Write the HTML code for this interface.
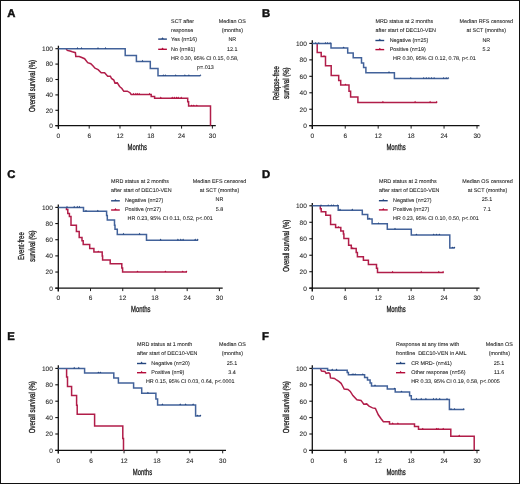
<!DOCTYPE html><html><head><meta charset="utf-8"><style>html,body{margin:0;padding:0;background:#fff;}svg{display:block;filter:blur(0.3px);text-rendering:geometricPrecision;}</style></head><body>
<svg width="520" height="484" viewBox="0 0 520 484" font-family='"Liberation Sans", sans-serif'>
<rect x="0" y="0" width="520" height="484" fill="#fff"/>
<rect x="0.5" y="0.5" width="519" height="483" fill="none" stroke="#111" stroke-width="1"/>
<text x="7.3" y="17.0" font-size="11.3" font-weight="bold" fill="#111" stroke="#111" stroke-width="0.45">A</text>
<text x="262" y="17.2" font-size="11.3" font-weight="bold" fill="#111" stroke="#111" stroke-width="0.45">B</text>
<text x="7.3" y="178.2" font-size="11.3" font-weight="bold" fill="#111" stroke="#111" stroke-width="0.45">C</text>
<text x="262" y="178.1" font-size="11.3" font-weight="bold" fill="#111" stroke="#111" stroke-width="0.45">D</text>
<text x="7.3" y="340.2" font-size="11.3" font-weight="bold" fill="#111" stroke="#111" stroke-width="0.45">E</text>
<text x="262" y="340.2" font-size="11.3" font-weight="bold" fill="#111" stroke="#111" stroke-width="0.45">F</text>
<line x1="58.4" y1="45.7" x2="58.4" y2="128.9" stroke="#111" stroke-width="1.3"/>
<line x1="55.4" y1="125.7" x2="215.8" y2="125.7" stroke="#111" stroke-width="1.3"/>
<line x1="55.4" y1="125.70" x2="58.4" y2="125.70" stroke="#111" stroke-width="1.1"/>
<text x="52.9" y="128.05" font-size="6.5" text-anchor="end" fill="#1a1a1a" stroke="#1a1a1a" stroke-width="0.07" >0</text>
<line x1="55.4" y1="110.30" x2="58.4" y2="110.30" stroke="#111" stroke-width="1.1"/>
<text x="52.9" y="112.64999999999999" font-size="6.5" text-anchor="end" fill="#1a1a1a" stroke="#1a1a1a" stroke-width="0.07" >20</text>
<line x1="55.4" y1="94.90" x2="58.4" y2="94.90" stroke="#111" stroke-width="1.1"/>
<text x="52.9" y="97.25" font-size="6.5" text-anchor="end" fill="#1a1a1a" stroke="#1a1a1a" stroke-width="0.07" >40</text>
<line x1="55.4" y1="79.50" x2="58.4" y2="79.50" stroke="#111" stroke-width="1.1"/>
<text x="52.9" y="81.85" font-size="6.5" text-anchor="end" fill="#1a1a1a" stroke="#1a1a1a" stroke-width="0.07" >60</text>
<line x1="55.4" y1="64.10" x2="58.4" y2="64.10" stroke="#111" stroke-width="1.1"/>
<text x="52.9" y="66.44999999999999" font-size="6.5" text-anchor="end" fill="#1a1a1a" stroke="#1a1a1a" stroke-width="0.07" >80</text>
<line x1="55.4" y1="48.70" x2="58.4" y2="48.70" stroke="#111" stroke-width="1.1"/>
<text x="52.9" y="51.050000000000004" font-size="6.5" text-anchor="end" fill="#1a1a1a" stroke="#1a1a1a" stroke-width="0.07" >100</text>
<line x1="58.40" y1="125.7" x2="58.40" y2="128.6" stroke="#111" stroke-width="0.95"/>
<text x="58.40" y="137.9" font-size="6.5" text-anchor="middle" fill="#1a1a1a" stroke="#1a1a1a" stroke-width="0.07" >0</text>
<line x1="89.20" y1="125.7" x2="89.20" y2="128.6" stroke="#111" stroke-width="0.95"/>
<text x="89.20" y="137.9" font-size="6.5" text-anchor="middle" fill="#1a1a1a" stroke="#1a1a1a" stroke-width="0.07" >6</text>
<line x1="120.00" y1="125.7" x2="120.00" y2="128.6" stroke="#111" stroke-width="0.95"/>
<text x="120.00" y="137.9" font-size="6.5" text-anchor="middle" fill="#1a1a1a" stroke="#1a1a1a" stroke-width="0.07" >12</text>
<line x1="150.79" y1="125.7" x2="150.79" y2="128.6" stroke="#111" stroke-width="0.95"/>
<text x="150.79" y="137.9" font-size="6.5" text-anchor="middle" fill="#1a1a1a" stroke="#1a1a1a" stroke-width="0.07" >18</text>
<line x1="181.59" y1="125.7" x2="181.59" y2="128.6" stroke="#111" stroke-width="0.95"/>
<text x="181.59" y="137.9" font-size="6.5" text-anchor="middle" fill="#1a1a1a" stroke="#1a1a1a" stroke-width="0.07" >24</text>
<line x1="212.39" y1="125.7" x2="212.39" y2="128.6" stroke="#111" stroke-width="0.95"/>
<text x="212.39" y="137.9" font-size="6.5" text-anchor="middle" fill="#1a1a1a" stroke="#1a1a1a" stroke-width="0.07" >30</text>
<text x="0" y="0" font-size="8.7" text-anchor="middle" fill="#1a1a1a" stroke="#1a1a1a" stroke-width="0.3" transform="translate(137.30,149.80) scale(0.68,1)">Months</text>
<text x="0" y="0" font-size="8.7" text-anchor="middle" fill="#1a1a1a" stroke="#1a1a1a" stroke-width="0.3" transform="translate(35.00,86.00) rotate(-90) scale(0.69,1)">Overall survival (%)</text>
<path d="M66.20,48.80 L67.30,50.40 L70.00,51.00 L72.30,51.80 L75.40,52.70 L75.80,56.40 L79.20,56.50 L81.20,57.30 L84.60,58.70 L87.70,62.70 L90.80,63.70 L93.10,65.90 L95.00,68.20 L98.10,69.60 L101.20,72.70 L104.60,72.70 L107.70,76.20 L110.40,76.20 L111.50,78.50 L113.80,80.00 L115.00,83.10 L117.30,82.90 L119.60,86.50 L121.90,88.50 L123.80,91.30 L127.30,91.20 L130.00,92.70 L131.20,94.40 L131.20,94.40 L151.20,94.40 L151.20,96.50 L154.60,96.50 L154.60,98.20 L187.70,98.20 L187.70,101.70 L188.60,101.70 L188.60,106.00 L210.50,106.00 L210.50,125.70" fill="none" stroke="#b11d49" stroke-width="1.5" stroke-linejoin="miter" stroke-linecap="butt"/>
<path d="M132.50,94.40 L133.50,92.80 L134.50,94.40 Z" fill="#b40c3a"/>
<path d="M134.80,94.40 L135.80,92.80 L136.80,94.40 Z" fill="#b40c3a"/>
<path d="M136.30,94.40 L137.30,92.80 L138.30,94.40 Z" fill="#b40c3a"/>
<path d="M138.20,94.40 L139.20,92.80 L140.20,94.40 Z" fill="#b40c3a"/>
<path d="M148.60,94.40 L149.60,92.80 L150.60,94.40 Z" fill="#b40c3a"/>
<path d="M159.80,98.20 L160.80,96.60 L161.80,98.20 Z" fill="#b40c3a"/>
<path d="M171.20,98.20 L172.20,96.60 L173.20,98.20 Z" fill="#b40c3a"/>
<path d="M173.30,98.20 L174.30,96.60 L175.30,98.20 Z" fill="#b40c3a"/>
<path d="M175.50,98.20 L176.50,96.60 L177.50,98.20 Z" fill="#b40c3a"/>
<path d="M177.20,98.20 L178.20,96.60 L179.20,98.20 Z" fill="#b40c3a"/>
<path d="M180.20,98.20 L181.20,96.60 L182.20,98.20 Z" fill="#b40c3a"/>
<path d="M190.60,106.00 L191.60,104.40 L192.60,106.00 Z" fill="#b40c3a"/>
<path d="M192.80,106.00 L193.80,104.40 L194.80,106.00 Z" fill="#b40c3a"/>
<path d="M195.80,106.00 L196.80,104.40 L197.80,106.00 Z" fill="#b40c3a"/>
<path d="M58.40,48.70 L125.20,48.70 L125.20,55.40 L136.40,55.40 L136.40,61.40 L150.30,61.40 L150.30,68.40 L158.00,68.40 L158.00,75.80 L200.40,75.80 L200.40,75.80" fill="none" stroke="#42629a" stroke-width="1.5" stroke-linejoin="miter" stroke-linecap="butt"/>
<path d="M76.50,48.70 L77.50,47.10 L78.50,48.70 Z" fill="#24467f"/>
<path d="M80.50,48.70 L81.50,47.10 L82.50,48.70 Z" fill="#24467f"/>
<path d="M97.00,48.70 L98.00,47.10 L99.00,48.70 Z" fill="#24467f"/>
<path d="M104.50,48.70 L105.50,47.10 L106.50,48.70 Z" fill="#24467f"/>
<path d="M141.50,61.40 L142.50,59.80 L143.50,61.40 Z" fill="#24467f"/>
<path d="M162.30,75.80 L163.30,74.20 L164.30,75.80 Z" fill="#24467f"/>
<path d="M164.30,75.80 L165.30,74.20 L166.30,75.80 Z" fill="#24467f"/>
<path d="M174.70,75.80 L175.70,74.20 L176.70,75.80 Z" fill="#24467f"/>
<path d="M183.90,75.80 L184.90,74.20 L185.90,75.80 Z" fill="#24467f"/>
<path d="M187.90,75.80 L188.90,74.20 L189.90,75.80 Z" fill="#24467f"/>
<path d="M199.40,75.80 L200.40,74.20 L201.40,75.80 Z" fill="#24467f"/>
<text x="171.1" y="23.1" font-size="5.4" text-anchor="start" fill="#1a1a1a" stroke="#1a1a1a" stroke-width="0.07" >SCT after</text>
<text x="171.1" y="32.2" font-size="5.4" text-anchor="start" fill="#1a1a1a" stroke="#1a1a1a" stroke-width="0.07" >response</text>
<text x="171.1" y="41.3" font-size="5.4" text-anchor="start" fill="#1a1a1a" stroke="#1a1a1a" stroke-width="0.07" >Yes (n=16)</text>
<text x="171.1" y="50.5" font-size="5.4" text-anchor="start" fill="#1a1a1a" stroke="#1a1a1a" stroke-width="0.07" >No (n=81)</text>
<text x="171.1" y="59.8" font-size="5.4" text-anchor="start" fill="#1a1a1a" stroke="#1a1a1a" stroke-width="0.07" >HR 0.30, 95% CI 0.15, 0.58,</text>
<text x="197.0" y="68.8" font-size="5.4" text-anchor="start" fill="#1a1a1a" stroke="#1a1a1a" stroke-width="0.07" >p=.013</text>
<text x="232.3" y="23.1" font-size="5.4" text-anchor="middle" fill="#1a1a1a" stroke="#1a1a1a" stroke-width="0.07" >Median OS</text>
<text x="232.3" y="32.2" font-size="5.4" text-anchor="middle" fill="#1a1a1a" stroke="#1a1a1a" stroke-width="0.07" >(months)</text>
<text x="232.3" y="41.3" font-size="5.4" text-anchor="middle" fill="#1a1a1a" stroke="#1a1a1a" stroke-width="0.07" >NR</text>
<text x="232.3" y="50.5" font-size="5.4" text-anchor="middle" fill="#1a1a1a" stroke="#1a1a1a" stroke-width="0.07" >12.1</text>
<line x1="158.2" y1="39.099999999999994" x2="166.9" y2="39.099999999999994" stroke="#24467f" stroke-width="1.4"/>
<path d="M161.25,39.10 L162.55,37.20 L163.85,39.10 Z" fill="#24467f"/>
<line x1="158.2" y1="49.3" x2="166.9" y2="49.3" stroke="#b40c3a" stroke-width="1.4"/>
<path d="M161.25,49.30 L162.55,47.40 L163.85,49.30 Z" fill="#b40c3a"/>
<line x1="312.3" y1="40.3" x2="312.3" y2="128.9" stroke="#111" stroke-width="1.3"/>
<line x1="309.3" y1="125.7" x2="479.5" y2="125.7" stroke="#111" stroke-width="1.3"/>
<line x1="309.3" y1="125.70" x2="312.3" y2="125.70" stroke="#111" stroke-width="1.1"/>
<text x="306.8" y="128.05" font-size="6.5" text-anchor="end" fill="#1a1a1a" stroke="#1a1a1a" stroke-width="0.07" >0</text>
<line x1="309.3" y1="109.24" x2="312.3" y2="109.24" stroke="#111" stroke-width="1.1"/>
<text x="306.8" y="111.59" font-size="6.5" text-anchor="end" fill="#1a1a1a" stroke="#1a1a1a" stroke-width="0.07" >20</text>
<line x1="309.3" y1="92.78" x2="312.3" y2="92.78" stroke="#111" stroke-width="1.1"/>
<text x="306.8" y="95.13" font-size="6.5" text-anchor="end" fill="#1a1a1a" stroke="#1a1a1a" stroke-width="0.07" >40</text>
<line x1="309.3" y1="76.32" x2="312.3" y2="76.32" stroke="#111" stroke-width="1.1"/>
<text x="306.8" y="78.66999999999999" font-size="6.5" text-anchor="end" fill="#1a1a1a" stroke="#1a1a1a" stroke-width="0.07" >60</text>
<line x1="309.3" y1="59.86" x2="312.3" y2="59.86" stroke="#111" stroke-width="1.1"/>
<text x="306.8" y="62.21" font-size="6.5" text-anchor="end" fill="#1a1a1a" stroke="#1a1a1a" stroke-width="0.07" >80</text>
<line x1="309.3" y1="43.40" x2="312.3" y2="43.40" stroke="#111" stroke-width="1.1"/>
<text x="306.8" y="45.74999999999999" font-size="6.5" text-anchor="end" fill="#1a1a1a" stroke="#1a1a1a" stroke-width="0.07" >100</text>
<line x1="312.30" y1="125.7" x2="312.30" y2="128.6" stroke="#111" stroke-width="0.95"/>
<text x="312.30" y="137.9" font-size="6.5" text-anchor="middle" fill="#1a1a1a" stroke="#1a1a1a" stroke-width="0.07" >0</text>
<line x1="345.24" y1="125.7" x2="345.24" y2="128.6" stroke="#111" stroke-width="0.95"/>
<text x="345.24" y="137.9" font-size="6.5" text-anchor="middle" fill="#1a1a1a" stroke="#1a1a1a" stroke-width="0.07" >6</text>
<line x1="378.18" y1="125.7" x2="378.18" y2="128.6" stroke="#111" stroke-width="0.95"/>
<text x="378.18" y="137.9" font-size="6.5" text-anchor="middle" fill="#1a1a1a" stroke="#1a1a1a" stroke-width="0.07" >12</text>
<line x1="411.12" y1="125.7" x2="411.12" y2="128.6" stroke="#111" stroke-width="0.95"/>
<text x="411.12" y="137.9" font-size="6.5" text-anchor="middle" fill="#1a1a1a" stroke="#1a1a1a" stroke-width="0.07" >18</text>
<line x1="444.06" y1="125.7" x2="444.06" y2="128.6" stroke="#111" stroke-width="0.95"/>
<text x="444.06" y="137.9" font-size="6.5" text-anchor="middle" fill="#1a1a1a" stroke="#1a1a1a" stroke-width="0.07" >24</text>
<line x1="477.00" y1="125.7" x2="477.00" y2="128.6" stroke="#111" stroke-width="0.95"/>
<text x="477.00" y="137.9" font-size="6.5" text-anchor="middle" fill="#1a1a1a" stroke="#1a1a1a" stroke-width="0.07" >30</text>
<text x="0" y="0" font-size="8.7" text-anchor="middle" fill="#1a1a1a" stroke="#1a1a1a" stroke-width="0.3" transform="translate(396.10,149.90) scale(0.68,1)">Months</text>
<text x="0" y="0" font-size="8.7" text-anchor="middle" fill="#1a1a1a" stroke="#1a1a1a" stroke-width="0.3" transform="translate(278.60,83.20) rotate(-90) scale(0.69,1)">Relapse-free</text>
<text x="0" y="0" font-size="8.7" text-anchor="middle" fill="#1a1a1a" stroke="#1a1a1a" stroke-width="0.3" transform="translate(288.80,83.20) rotate(-90) scale(0.69,1)">survival (%)</text>
<path d="M317.20,43.60 L317.20,43.60 L317.20,52.60 L321.20,52.60 L321.20,56.50 L325.50,56.50 L325.50,65.80 L331.20,65.80 L331.20,75.60 L338.70,75.60 L338.70,80.50 L340.70,80.50 L340.70,85.00 L349.00,85.00 L349.00,91.30 L350.60,91.30 L350.60,97.10 L357.90,97.10 L357.90,102.40 L437.00,102.40 L437.00,102.40" fill="none" stroke="#b11d49" stroke-width="1.5" stroke-linejoin="miter" stroke-linecap="butt"/>
<path d="M323.00,56.50 L324.00,54.90 L325.00,56.50 Z" fill="#b40c3a"/>
<path d="M344.50,85.00 L345.50,83.40 L346.50,85.00 Z" fill="#b40c3a"/>
<path d="M381.90,102.40 L382.90,100.80 L383.90,102.40 Z" fill="#b40c3a"/>
<path d="M414.10,102.40 L415.10,100.80 L416.10,102.40 Z" fill="#b40c3a"/>
<path d="M429.10,102.40 L430.10,100.80 L431.10,102.40 Z" fill="#b40c3a"/>
<path d="M435.70,102.40 L436.70,100.80 L437.70,102.40 Z" fill="#b40c3a"/>
<path d="M312.30,43.60 L331.00,43.60 L331.00,48.10 L347.70,48.10 L347.70,53.10 L353.20,53.10 L353.20,57.70 L361.50,57.70 L361.50,62.90 L363.60,62.90 L363.60,67.50 L365.90,67.50 L365.90,72.70 L394.40,72.70 L394.40,78.60 L448.50,78.60 L448.50,78.60" fill="none" stroke="#42629a" stroke-width="1.5" stroke-linejoin="miter" stroke-linecap="butt"/>
<path d="M314.70,43.60 L315.70,42.00 L316.70,43.60 Z" fill="#24467f"/>
<path d="M317.80,43.60 L318.80,42.00 L319.80,43.60 Z" fill="#24467f"/>
<path d="M324.50,43.60 L325.50,42.00 L326.50,43.60 Z" fill="#24467f"/>
<path d="M326.60,43.60 L327.60,42.00 L328.60,43.60 Z" fill="#24467f"/>
<path d="M329.10,43.60 L330.10,42.00 L331.10,43.60 Z" fill="#24467f"/>
<path d="M342.60,48.10 L343.60,46.50 L344.60,48.10 Z" fill="#24467f"/>
<path d="M388.00,72.70 L389.00,71.10 L390.00,72.70 Z" fill="#24467f"/>
<path d="M409.80,78.60 L410.80,77.00 L411.80,78.60 Z" fill="#24467f"/>
<path d="M422.70,78.60 L423.70,77.00 L424.70,78.60 Z" fill="#24467f"/>
<path d="M425.30,78.60 L426.30,77.00 L427.30,78.60 Z" fill="#24467f"/>
<path d="M427.90,78.60 L428.90,77.00 L429.90,78.60 Z" fill="#24467f"/>
<path d="M430.50,78.60 L431.50,77.00 L432.50,78.60 Z" fill="#24467f"/>
<path d="M433.10,78.60 L434.10,77.00 L435.10,78.60 Z" fill="#24467f"/>
<path d="M442.60,78.60 L443.60,77.00 L444.60,78.60 Z" fill="#24467f"/>
<path d="M445.20,78.60 L446.20,77.00 L447.20,78.60 Z" fill="#24467f"/>
<path d="M447.30,78.60 L448.30,77.00 L449.30,78.60 Z" fill="#24467f"/>
<text x="375.4" y="23.1" font-size="5.4" text-anchor="start" fill="#1a1a1a" stroke="#1a1a1a" stroke-width="0.07" >MRD status at 2 months</text>
<text x="375.4" y="32.3" font-size="5.4" text-anchor="start" fill="#1a1a1a" stroke="#1a1a1a" stroke-width="0.07" >after start of DEC10-VEN</text>
<text x="389.7" y="41.5" font-size="5.4" text-anchor="start" fill="#1a1a1a" stroke="#1a1a1a" stroke-width="0.07" >Negative (n=25)</text>
<text x="389.7" y="50.6" font-size="5.4" text-anchor="start" fill="#1a1a1a" stroke="#1a1a1a" stroke-width="0.07" >Positive (n=19)</text>
<text x="393.1" y="59.9" font-size="5.4" text-anchor="start" fill="#1a1a1a" stroke="#1a1a1a" stroke-width="0.07" >HR 0.30, 95% CI 0.12, 0.78, p&lt;.01</text>
<text x="486.3" y="23.1" font-size="5.4" text-anchor="middle" fill="#1a1a1a" stroke="#1a1a1a" stroke-width="0.07" >Median RFS censored</text>
<text x="486.3" y="32.3" font-size="5.4" text-anchor="middle" fill="#1a1a1a" stroke="#1a1a1a" stroke-width="0.07" >at SCT (months)</text>
<text x="486.3" y="41.5" font-size="5.4" text-anchor="middle" fill="#1a1a1a" stroke="#1a1a1a" stroke-width="0.07" >NR</text>
<text x="486.3" y="50.6" font-size="5.4" text-anchor="middle" fill="#1a1a1a" stroke="#1a1a1a" stroke-width="0.07" >5.2</text>
<line x1="375.4" y1="40.5" x2="384.2" y2="40.5" stroke="#24467f" stroke-width="1.4"/>
<path d="M378.50,40.50 L379.80,38.60 L381.10,40.50 Z" fill="#24467f"/>
<line x1="375.4" y1="49.599999999999994" x2="384.2" y2="49.599999999999994" stroke="#b40c3a" stroke-width="1.4"/>
<path d="M378.50,49.60 L379.80,47.70 L381.10,49.60 Z" fill="#b40c3a"/>
<line x1="58.3" y1="204.5" x2="58.3" y2="291.4" stroke="#111" stroke-width="1.3"/>
<line x1="55.3" y1="288.2" x2="222.7" y2="288.2" stroke="#111" stroke-width="1.3"/>
<line x1="55.3" y1="288.20" x2="58.3" y2="288.20" stroke="#111" stroke-width="1.1"/>
<text x="52.8" y="290.55" font-size="6.5" text-anchor="end" fill="#1a1a1a" stroke="#1a1a1a" stroke-width="0.07" >0</text>
<line x1="55.3" y1="272.04" x2="58.3" y2="272.04" stroke="#111" stroke-width="1.1"/>
<text x="52.8" y="274.39" font-size="6.5" text-anchor="end" fill="#1a1a1a" stroke="#1a1a1a" stroke-width="0.07" >20</text>
<line x1="55.3" y1="255.88" x2="58.3" y2="255.88" stroke="#111" stroke-width="1.1"/>
<text x="52.8" y="258.23" font-size="6.5" text-anchor="end" fill="#1a1a1a" stroke="#1a1a1a" stroke-width="0.07" >40</text>
<line x1="55.3" y1="239.72" x2="58.3" y2="239.72" stroke="#111" stroke-width="1.1"/>
<text x="52.8" y="242.07" font-size="6.5" text-anchor="end" fill="#1a1a1a" stroke="#1a1a1a" stroke-width="0.07" >60</text>
<line x1="55.3" y1="223.56" x2="58.3" y2="223.56" stroke="#111" stroke-width="1.1"/>
<text x="52.8" y="225.91" font-size="6.5" text-anchor="end" fill="#1a1a1a" stroke="#1a1a1a" stroke-width="0.07" >80</text>
<line x1="55.3" y1="207.40" x2="58.3" y2="207.40" stroke="#111" stroke-width="1.1"/>
<text x="52.8" y="209.75" font-size="6.5" text-anchor="end" fill="#1a1a1a" stroke="#1a1a1a" stroke-width="0.07" >100</text>
<line x1="58.30" y1="288.2" x2="58.30" y2="291.09999999999997" stroke="#111" stroke-width="0.95"/>
<text x="58.30" y="300.4" font-size="6.5" text-anchor="middle" fill="#1a1a1a" stroke="#1a1a1a" stroke-width="0.07" >0</text>
<line x1="90.52" y1="288.2" x2="90.52" y2="291.09999999999997" stroke="#111" stroke-width="0.95"/>
<text x="90.52" y="300.4" font-size="6.5" text-anchor="middle" fill="#1a1a1a" stroke="#1a1a1a" stroke-width="0.07" >6</text>
<line x1="122.74" y1="288.2" x2="122.74" y2="291.09999999999997" stroke="#111" stroke-width="0.95"/>
<text x="122.74" y="300.4" font-size="6.5" text-anchor="middle" fill="#1a1a1a" stroke="#1a1a1a" stroke-width="0.07" >12</text>
<line x1="154.96" y1="288.2" x2="154.96" y2="291.09999999999997" stroke="#111" stroke-width="0.95"/>
<text x="154.96" y="300.4" font-size="6.5" text-anchor="middle" fill="#1a1a1a" stroke="#1a1a1a" stroke-width="0.07" >18</text>
<line x1="187.18" y1="288.2" x2="187.18" y2="291.09999999999997" stroke="#111" stroke-width="0.95"/>
<text x="187.18" y="300.4" font-size="6.5" text-anchor="middle" fill="#1a1a1a" stroke="#1a1a1a" stroke-width="0.07" >24</text>
<line x1="219.40" y1="288.2" x2="219.40" y2="291.09999999999997" stroke="#111" stroke-width="0.95"/>
<text x="219.40" y="300.4" font-size="6.5" text-anchor="middle" fill="#1a1a1a" stroke="#1a1a1a" stroke-width="0.07" >30</text>
<text x="0" y="0" font-size="8.7" text-anchor="middle" fill="#1a1a1a" stroke="#1a1a1a" stroke-width="0.3" transform="translate(140.70,312.20) scale(0.68,1)">Months</text>
<text x="0" y="0" font-size="8.7" text-anchor="middle" fill="#1a1a1a" stroke="#1a1a1a" stroke-width="0.3" transform="translate(24.40,246.10) rotate(-90) scale(0.69,1)">Event-free</text>
<text x="0" y="0" font-size="8.7" text-anchor="middle" fill="#1a1a1a" stroke="#1a1a1a" stroke-width="0.3" transform="translate(34.70,246.10) rotate(-90) scale(0.69,1)">survival (%)</text>
<path d="M66.50,207.40 L66.50,207.40 L66.50,209.60 L67.80,209.60 L67.80,213.40 L69.40,213.40 L69.40,216.60 L71.00,216.60 L71.00,225.30 L76.40,225.30 L76.40,231.50 L79.20,231.50 L79.20,237.50 L82.00,237.50 L82.00,240.80 L83.20,240.80 L83.20,244.50 L89.70,244.50 L89.70,248.40 L93.90,248.40 L93.90,252.00 L102.20,252.00 L102.20,256.00 L102.60,256.00 L102.60,260.00 L110.20,260.00 L110.20,263.80 L121.80,263.80 L121.80,268.00 L122.60,268.00 L122.60,272.10 L187.00,272.10 L187.00,272.10" fill="none" stroke="#b11d49" stroke-width="1.5" stroke-linejoin="miter" stroke-linecap="butt"/>
<path d="M97.30,252.00 L98.30,250.40 L99.30,252.00 Z" fill="#b40c3a"/>
<path d="M136.50,272.10 L137.50,270.50 L138.50,272.10 Z" fill="#b40c3a"/>
<path d="M164.40,272.10 L165.40,270.50 L166.40,272.10 Z" fill="#b40c3a"/>
<path d="M181.70,272.10 L182.70,270.50 L183.70,272.10 Z" fill="#b40c3a"/>
<path d="M185.40,272.10 L186.40,270.50 L187.40,272.10 Z" fill="#b40c3a"/>
<path d="M58.30,207.40 L83.50,207.40 L83.50,211.30 L106.60,211.30 L106.60,215.40 L107.30,215.40 L107.30,220.00 L114.50,220.00 L114.50,225.20 L115.00,225.20 L115.00,229.20 L117.30,229.20 L117.30,234.40 L146.50,234.40 L146.50,240.20 L198.00,240.20 L198.00,240.20" fill="none" stroke="#42629a" stroke-width="1.5" stroke-linejoin="miter" stroke-linecap="butt"/>
<path d="M66.00,207.40 L67.00,205.80 L68.00,207.40 Z" fill="#24467f"/>
<path d="M73.20,207.40 L74.20,205.80 L75.20,207.40 Z" fill="#24467f"/>
<path d="M76.30,207.40 L77.30,205.80 L78.30,207.40 Z" fill="#24467f"/>
<path d="M78.40,207.40 L79.40,205.80 L80.40,207.40 Z" fill="#24467f"/>
<path d="M85.00,211.30 L86.00,209.70 L87.00,211.30 Z" fill="#24467f"/>
<path d="M96.80,211.30 L97.80,209.70 L98.80,211.30 Z" fill="#24467f"/>
<path d="M122.50,234.40 L123.50,232.80 L124.50,234.40 Z" fill="#24467f"/>
<path d="M138.60,234.40 L139.60,232.80 L140.60,234.40 Z" fill="#24467f"/>
<path d="M159.60,240.20 L160.60,238.60 L161.60,240.20 Z" fill="#24467f"/>
<path d="M176.90,240.20 L177.90,238.60 L178.90,240.20 Z" fill="#24467f"/>
<path d="M179.80,240.20 L180.80,238.60 L181.80,240.20 Z" fill="#24467f"/>
<path d="M182.10,240.20 L183.10,238.60 L184.10,240.20 Z" fill="#24467f"/>
<path d="M194.20,240.20 L195.20,238.60 L196.20,240.20 Z" fill="#24467f"/>
<path d="M196.70,240.20 L197.70,238.60 L198.70,240.20 Z" fill="#24467f"/>
<text x="111.1" y="183.1" font-size="5.4" text-anchor="start" fill="#1a1a1a" stroke="#1a1a1a" stroke-width="0.07" >MRD status at 2 months</text>
<text x="111.1" y="192.2" font-size="5.4" text-anchor="start" fill="#1a1a1a" stroke="#1a1a1a" stroke-width="0.07" >after start of DEC10-VEN</text>
<text x="124.9" y="201.5" font-size="5.4" text-anchor="start" fill="#1a1a1a" stroke="#1a1a1a" stroke-width="0.07" >Negative (n=27)</text>
<text x="124.9" y="210.7" font-size="5.4" text-anchor="start" fill="#1a1a1a" stroke="#1a1a1a" stroke-width="0.07" >Positive (n=27)</text>
<text x="127.6" y="219.6" font-size="5.4" text-anchor="start" fill="#1a1a1a" stroke="#1a1a1a" stroke-width="0.07" >HR 0.23, 95% CI 0.11, 0.52, p&lt;.001</text>
<text x="219.5" y="183.0" font-size="5.4" text-anchor="middle" fill="#1a1a1a" stroke="#1a1a1a" stroke-width="0.07" >Median EFS censored</text>
<text x="219.5" y="192.0" font-size="5.4" text-anchor="middle" fill="#1a1a1a" stroke="#1a1a1a" stroke-width="0.07" >at SCT (months)</text>
<text x="219.5" y="201.3" font-size="5.4" text-anchor="middle" fill="#1a1a1a" stroke="#1a1a1a" stroke-width="0.07" >NR</text>
<text x="219.5" y="210.5" font-size="5.4" text-anchor="middle" fill="#1a1a1a" stroke="#1a1a1a" stroke-width="0.07" >5.8</text>
<line x1="111.1" y1="200.8" x2="119.8" y2="200.8" stroke="#24467f" stroke-width="1.4"/>
<path d="M114.15,200.80 L115.45,198.90 L116.75,200.80 Z" fill="#24467f"/>
<line x1="111.1" y1="210.0" x2="119.8" y2="210.0" stroke="#b40c3a" stroke-width="1.4"/>
<path d="M114.15,210.00 L115.45,208.10 L116.75,210.00 Z" fill="#b40c3a"/>
<line x1="312.3" y1="202.9" x2="312.3" y2="291.4" stroke="#111" stroke-width="1.3"/>
<line x1="309.3" y1="288.2" x2="479.5" y2="288.2" stroke="#111" stroke-width="1.3"/>
<line x1="309.3" y1="288.20" x2="312.3" y2="288.20" stroke="#111" stroke-width="1.1"/>
<text x="306.8" y="290.55" font-size="6.5" text-anchor="end" fill="#1a1a1a" stroke="#1a1a1a" stroke-width="0.07" >0</text>
<line x1="309.3" y1="271.72" x2="312.3" y2="271.72" stroke="#111" stroke-width="1.1"/>
<text x="306.8" y="274.07" font-size="6.5" text-anchor="end" fill="#1a1a1a" stroke="#1a1a1a" stroke-width="0.07" >20</text>
<line x1="309.3" y1="255.24" x2="312.3" y2="255.24" stroke="#111" stroke-width="1.1"/>
<text x="306.8" y="257.59000000000003" font-size="6.5" text-anchor="end" fill="#1a1a1a" stroke="#1a1a1a" stroke-width="0.07" >40</text>
<line x1="309.3" y1="238.76" x2="312.3" y2="238.76" stroke="#111" stroke-width="1.1"/>
<text x="306.8" y="241.10999999999999" font-size="6.5" text-anchor="end" fill="#1a1a1a" stroke="#1a1a1a" stroke-width="0.07" >60</text>
<line x1="309.3" y1="222.28" x2="312.3" y2="222.28" stroke="#111" stroke-width="1.1"/>
<text x="306.8" y="224.63" font-size="6.5" text-anchor="end" fill="#1a1a1a" stroke="#1a1a1a" stroke-width="0.07" >80</text>
<line x1="309.3" y1="205.80" x2="312.3" y2="205.80" stroke="#111" stroke-width="1.1"/>
<text x="306.8" y="208.15" font-size="6.5" text-anchor="end" fill="#1a1a1a" stroke="#1a1a1a" stroke-width="0.07" >100</text>
<line x1="312.30" y1="288.2" x2="312.30" y2="291.09999999999997" stroke="#111" stroke-width="0.95"/>
<text x="312.30" y="300.4" font-size="6.5" text-anchor="middle" fill="#1a1a1a" stroke="#1a1a1a" stroke-width="0.07" >0</text>
<line x1="345.24" y1="288.2" x2="345.24" y2="291.09999999999997" stroke="#111" stroke-width="0.95"/>
<text x="345.24" y="300.4" font-size="6.5" text-anchor="middle" fill="#1a1a1a" stroke="#1a1a1a" stroke-width="0.07" >6</text>
<line x1="378.18" y1="288.2" x2="378.18" y2="291.09999999999997" stroke="#111" stroke-width="0.95"/>
<text x="378.18" y="300.4" font-size="6.5" text-anchor="middle" fill="#1a1a1a" stroke="#1a1a1a" stroke-width="0.07" >12</text>
<line x1="411.12" y1="288.2" x2="411.12" y2="291.09999999999997" stroke="#111" stroke-width="0.95"/>
<text x="411.12" y="300.4" font-size="6.5" text-anchor="middle" fill="#1a1a1a" stroke="#1a1a1a" stroke-width="0.07" >18</text>
<line x1="444.06" y1="288.2" x2="444.06" y2="291.09999999999997" stroke="#111" stroke-width="0.95"/>
<text x="444.06" y="300.4" font-size="6.5" text-anchor="middle" fill="#1a1a1a" stroke="#1a1a1a" stroke-width="0.07" >24</text>
<line x1="477.00" y1="288.2" x2="477.00" y2="291.09999999999997" stroke="#111" stroke-width="0.95"/>
<text x="477.00" y="300.4" font-size="6.5" text-anchor="middle" fill="#1a1a1a" stroke="#1a1a1a" stroke-width="0.07" >30</text>
<text x="0" y="0" font-size="8.7" text-anchor="middle" fill="#1a1a1a" stroke="#1a1a1a" stroke-width="0.3" transform="translate(396.10,312.20) scale(0.68,1)">Months</text>
<text x="0" y="0" font-size="8.7" text-anchor="middle" fill="#1a1a1a" stroke="#1a1a1a" stroke-width="0.3" transform="translate(289.30,245.70) rotate(-90) scale(0.69,1)">Overall survival (%)</text>
<path d="M320.30,205.80 L320.30,205.80 L320.30,208.70 L321.20,208.70 L321.20,211.80 L325.80,211.80 L325.80,215.20 L330.50,215.20 L330.50,218.50 L330.60,218.50 L330.60,224.50 L335.60,224.50 L335.60,227.60 L340.80,227.60 L340.80,230.90 L343.40,230.90 L343.40,234.00 L343.90,234.00 L343.90,238.50 L348.60,238.50 L348.60,245.30 L351.30,245.30 L351.30,248.60 L356.20,248.60 L356.20,252.60 L357.40,252.60 L357.40,256.70 L363.40,256.70 L363.40,260.30 L368.40,260.30 L368.40,264.40 L376.50,264.40 L376.50,268.30 L377.50,268.30 L377.50,272.40 L443.70,272.40 L443.70,272.40" fill="none" stroke="#b11d49" stroke-width="1.5" stroke-linejoin="miter" stroke-linecap="butt"/>
<path d="M337.50,227.60 L338.50,226.00 L339.50,227.60 Z" fill="#b40c3a"/>
<path d="M351.80,248.60 L352.80,247.00 L353.80,248.60 Z" fill="#b40c3a"/>
<path d="M391.60,272.40 L392.60,270.80 L393.60,272.40 Z" fill="#b40c3a"/>
<path d="M420.20,272.40 L421.20,270.80 L422.20,272.40 Z" fill="#b40c3a"/>
<path d="M437.80,272.40 L438.80,270.80 L439.80,272.40 Z" fill="#b40c3a"/>
<path d="M442.10,272.40 L443.10,270.80 L444.10,272.40 Z" fill="#b40c3a"/>
<path d="M312.30,205.80 L338.20,205.80 L338.20,210.20 L362.30,210.20 L362.30,214.60 L367.70,214.60 L367.70,219.10 L372.10,219.10 L372.10,223.80 L387.30,223.80 L387.30,229.30 L411.30,229.30 L411.30,235.00 L449.80,235.00 L449.80,248.00 L454.80,248.00 L454.80,248.00" fill="none" stroke="#42629a" stroke-width="1.5" stroke-linejoin="miter" stroke-linecap="butt"/>
<path d="M320.00,205.80 L321.00,204.20 L322.00,205.80 Z" fill="#24467f"/>
<path d="M327.20,205.80 L328.20,204.20 L329.20,205.80 Z" fill="#24467f"/>
<path d="M330.30,205.80 L331.30,204.20 L332.30,205.80 Z" fill="#24467f"/>
<path d="M332.40,205.80 L333.40,204.20 L334.40,205.80 Z" fill="#24467f"/>
<path d="M336.70,205.80 L337.70,204.20 L338.70,205.80 Z" fill="#24467f"/>
<path d="M339.00,210.20 L340.00,208.60 L341.00,210.20 Z" fill="#24467f"/>
<path d="M351.30,210.20 L352.30,208.60 L353.30,210.20 Z" fill="#24467f"/>
<path d="M368.20,219.10 L369.20,217.50 L370.20,219.10 Z" fill="#24467f"/>
<path d="M377.50,223.80 L378.50,222.20 L379.50,223.80 Z" fill="#24467f"/>
<path d="M394.00,229.30 L395.00,227.70 L396.00,229.30 Z" fill="#24467f"/>
<path d="M415.40,235.00 L416.40,233.40 L417.40,235.00 Z" fill="#24467f"/>
<path d="M432.70,235.00 L433.70,233.40 L434.70,235.00 Z" fill="#24467f"/>
<path d="M435.50,235.00 L436.50,233.40 L437.50,235.00 Z" fill="#24467f"/>
<path d="M438.40,235.00 L439.40,233.40 L440.40,235.00 Z" fill="#24467f"/>
<path d="M451.50,248.00 L452.50,246.40 L453.50,248.00 Z" fill="#24467f"/>
<path d="M453.40,248.00 L454.40,246.40 L455.40,248.00 Z" fill="#24467f"/>
<text x="378.9" y="183.0" font-size="5.4" text-anchor="start" fill="#1a1a1a" stroke="#1a1a1a" stroke-width="0.07" >MRD status at 2 months</text>
<text x="378.9" y="192.0" font-size="5.4" text-anchor="start" fill="#1a1a1a" stroke="#1a1a1a" stroke-width="0.07" >after start of DEC10-VEN</text>
<text x="393.1" y="201.5" font-size="5.4" text-anchor="start" fill="#1a1a1a" stroke="#1a1a1a" stroke-width="0.07" >Negative (n=27)</text>
<text x="393.1" y="210.7" font-size="5.4" text-anchor="start" fill="#1a1a1a" stroke="#1a1a1a" stroke-width="0.07" >Positive (n=27)</text>
<text x="393.1" y="219.6" font-size="5.4" text-anchor="start" fill="#1a1a1a" stroke="#1a1a1a" stroke-width="0.07" >HR 0.23, 95% CI 0.10, 0.50, p&lt;.001</text>
<text x="487.5" y="183.0" font-size="5.4" text-anchor="middle" fill="#1a1a1a" stroke="#1a1a1a" stroke-width="0.07" >Median OS censored</text>
<text x="487.5" y="192.0" font-size="5.4" text-anchor="middle" fill="#1a1a1a" stroke="#1a1a1a" stroke-width="0.07" >at SCT (months)</text>
<text x="487.0" y="201.3" font-size="5.4" text-anchor="middle" fill="#1a1a1a" stroke="#1a1a1a" stroke-width="0.07" >25.1</text>
<text x="487.0" y="210.5" font-size="5.4" text-anchor="middle" fill="#1a1a1a" stroke="#1a1a1a" stroke-width="0.07" >7.1</text>
<line x1="378.9" y1="200.70000000000002" x2="387.7" y2="200.70000000000002" stroke="#24467f" stroke-width="1.4"/>
<path d="M382.00,200.70 L383.30,198.80 L384.60,200.70 Z" fill="#24467f"/>
<line x1="378.9" y1="209.9" x2="387.7" y2="209.9" stroke="#b40c3a" stroke-width="1.4"/>
<path d="M382.00,209.90 L383.30,208.00 L384.60,209.90 Z" fill="#b40c3a"/>
<line x1="58.3" y1="365.3" x2="58.3" y2="453.59999999999997" stroke="#111" stroke-width="1.3"/>
<line x1="55.3" y1="450.4" x2="226.0" y2="450.4" stroke="#111" stroke-width="1.3"/>
<line x1="55.3" y1="450.40" x2="58.3" y2="450.40" stroke="#111" stroke-width="1.1"/>
<text x="52.8" y="452.75" font-size="6.5" text-anchor="end" fill="#1a1a1a" stroke="#1a1a1a" stroke-width="0.07" >0</text>
<line x1="55.3" y1="434.00" x2="58.3" y2="434.00" stroke="#111" stroke-width="1.1"/>
<text x="52.8" y="436.35" font-size="6.5" text-anchor="end" fill="#1a1a1a" stroke="#1a1a1a" stroke-width="0.07" >20</text>
<line x1="55.3" y1="417.60" x2="58.3" y2="417.60" stroke="#111" stroke-width="1.1"/>
<text x="52.8" y="419.95" font-size="6.5" text-anchor="end" fill="#1a1a1a" stroke="#1a1a1a" stroke-width="0.07" >40</text>
<line x1="55.3" y1="401.20" x2="58.3" y2="401.20" stroke="#111" stroke-width="1.1"/>
<text x="52.8" y="403.55" font-size="6.5" text-anchor="end" fill="#1a1a1a" stroke="#1a1a1a" stroke-width="0.07" >60</text>
<line x1="55.3" y1="384.80" x2="58.3" y2="384.80" stroke="#111" stroke-width="1.1"/>
<text x="52.8" y="387.15" font-size="6.5" text-anchor="end" fill="#1a1a1a" stroke="#1a1a1a" stroke-width="0.07" >80</text>
<line x1="55.3" y1="368.40" x2="58.3" y2="368.40" stroke="#111" stroke-width="1.1"/>
<text x="52.8" y="370.75" font-size="6.5" text-anchor="end" fill="#1a1a1a" stroke="#1a1a1a" stroke-width="0.07" >100</text>
<line x1="58.30" y1="450.4" x2="58.30" y2="453.29999999999995" stroke="#111" stroke-width="0.95"/>
<text x="58.30" y="462.59999999999997" font-size="6.5" text-anchor="middle" fill="#1a1a1a" stroke="#1a1a1a" stroke-width="0.07" >0</text>
<line x1="91.18" y1="450.4" x2="91.18" y2="453.29999999999995" stroke="#111" stroke-width="0.95"/>
<text x="91.18" y="462.59999999999997" font-size="6.5" text-anchor="middle" fill="#1a1a1a" stroke="#1a1a1a" stroke-width="0.07" >6</text>
<line x1="124.06" y1="450.4" x2="124.06" y2="453.29999999999995" stroke="#111" stroke-width="0.95"/>
<text x="124.06" y="462.59999999999997" font-size="6.5" text-anchor="middle" fill="#1a1a1a" stroke="#1a1a1a" stroke-width="0.07" >12</text>
<line x1="156.94" y1="450.4" x2="156.94" y2="453.29999999999995" stroke="#111" stroke-width="0.95"/>
<text x="156.94" y="462.59999999999997" font-size="6.5" text-anchor="middle" fill="#1a1a1a" stroke="#1a1a1a" stroke-width="0.07" >18</text>
<line x1="189.82" y1="450.4" x2="189.82" y2="453.29999999999995" stroke="#111" stroke-width="0.95"/>
<text x="189.82" y="462.59999999999997" font-size="6.5" text-anchor="middle" fill="#1a1a1a" stroke="#1a1a1a" stroke-width="0.07" >24</text>
<line x1="222.70" y1="450.4" x2="222.70" y2="453.29999999999995" stroke="#111" stroke-width="0.95"/>
<text x="222.70" y="462.59999999999997" font-size="6.5" text-anchor="middle" fill="#1a1a1a" stroke="#1a1a1a" stroke-width="0.07" >30</text>
<text x="0" y="0" font-size="8.7" text-anchor="middle" fill="#1a1a1a" stroke="#1a1a1a" stroke-width="0.3" transform="translate(142.40,474.60) scale(0.68,1)">Months</text>
<text x="0" y="0" font-size="8.7" text-anchor="middle" fill="#1a1a1a" stroke="#1a1a1a" stroke-width="0.3" transform="translate(35.30,407.20) rotate(-90) scale(0.69,1)">Overall survival (%)</text>
<path d="M66.60,368.40 L66.60,368.40 L66.60,377.00 L67.50,377.00 L67.50,386.50 L71.60,386.50 L71.60,395.40 L76.60,395.40 L76.60,405.30 L77.20,405.30 L77.20,414.20 L94.60,414.20 L94.60,426.10 L122.80,426.10 L122.80,438.40 L123.50,438.40 L123.50,450.40" fill="none" stroke="#b11d49" stroke-width="1.5" stroke-linejoin="miter" stroke-linecap="butt"/>
<path d="M58.30,368.40 L84.60,368.40 L84.60,373.10 L113.80,373.10 L113.80,377.90 L118.40,377.90 L118.40,383.10 L133.60,383.10 L133.60,388.10 L141.70,388.10 L141.70,393.30 L155.90,393.30 L155.90,399.00 L157.60,399.00 L157.60,404.90 L195.60,404.90 L195.60,416.00 L200.80,416.00 L200.80,416.00" fill="none" stroke="#42629a" stroke-width="1.5" stroke-linejoin="miter" stroke-linecap="butt"/>
<path d="M73.20,368.40 L74.20,366.80 L75.20,368.40 Z" fill="#24467f"/>
<path d="M77.80,368.40 L78.80,366.80 L79.80,368.40 Z" fill="#24467f"/>
<path d="M97.40,373.10 L98.40,371.50 L99.40,373.10 Z" fill="#24467f"/>
<path d="M99.40,373.10 L100.40,371.50 L101.40,373.10 Z" fill="#24467f"/>
<path d="M146.90,393.30 L147.90,391.70 L148.90,393.30 Z" fill="#24467f"/>
<path d="M161.40,404.90 L162.40,403.30 L163.40,404.90 Z" fill="#24467f"/>
<path d="M179.20,404.90 L180.20,403.30 L181.20,404.90 Z" fill="#24467f"/>
<path d="M184.60,404.90 L185.60,403.30 L186.60,404.90 Z" fill="#24467f"/>
<path d="M192.10,404.90 L193.10,403.30 L194.10,404.90 Z" fill="#24467f"/>
<path d="M196.50,416.00 L197.50,414.40 L198.50,416.00 Z" fill="#24467f"/>
<path d="M199.40,416.00 L200.40,414.40 L201.40,416.00 Z" fill="#24467f"/>
<text x="137.0" y="346.2" font-size="5.4" text-anchor="start" fill="#1a1a1a" stroke="#1a1a1a" stroke-width="0.07" >MRD status at 1 month</text>
<text x="137.0" y="355.2" font-size="5.4" text-anchor="start" fill="#1a1a1a" stroke="#1a1a1a" stroke-width="0.07" >after start of DEC10-VEN</text>
<text x="151.3" y="364.6" font-size="5.4" text-anchor="start" fill="#1a1a1a" stroke="#1a1a1a" stroke-width="0.07" >Negative (n=20)</text>
<text x="151.3" y="373.6" font-size="5.4" text-anchor="start" fill="#1a1a1a" stroke="#1a1a1a" stroke-width="0.07" >Positive (n=9)</text>
<text x="145.9" y="382.7" font-size="5.4" text-anchor="start" fill="#1a1a1a" stroke="#1a1a1a" stroke-width="0.07" >HR 0.15, 95% CI 0.03, 0.64, p&lt;.0001</text>
<text x="232.4" y="346.2" font-size="5.4" text-anchor="middle" fill="#1a1a1a" stroke="#1a1a1a" stroke-width="0.07" >Median OS</text>
<text x="232.4" y="355.0" font-size="5.4" text-anchor="middle" fill="#1a1a1a" stroke="#1a1a1a" stroke-width="0.07" >(months)</text>
<text x="232.0" y="364.6" font-size="5.4" text-anchor="middle" fill="#1a1a1a" stroke="#1a1a1a" stroke-width="0.07" >25.1</text>
<text x="232.0" y="373.6" font-size="5.4" text-anchor="middle" fill="#1a1a1a" stroke="#1a1a1a" stroke-width="0.07" >3.4</text>
<line x1="137.0" y1="363.5" x2="146.2" y2="363.5" stroke="#24467f" stroke-width="1.4"/>
<path d="M140.30,363.50 L141.60,361.60 L142.90,363.50 Z" fill="#24467f"/>
<line x1="137.0" y1="372.7" x2="146.2" y2="372.7" stroke="#b40c3a" stroke-width="1.4"/>
<path d="M140.30,372.70 L141.60,370.80 L142.90,372.70 Z" fill="#b40c3a"/>
<line x1="312.3" y1="365.3" x2="312.3" y2="453.59999999999997" stroke="#111" stroke-width="1.3"/>
<line x1="309.3" y1="450.4" x2="479.5" y2="450.4" stroke="#111" stroke-width="1.3"/>
<line x1="309.3" y1="450.40" x2="312.3" y2="450.40" stroke="#111" stroke-width="1.1"/>
<text x="306.8" y="452.75" font-size="6.5" text-anchor="end" fill="#1a1a1a" stroke="#1a1a1a" stroke-width="0.07" >0</text>
<line x1="309.3" y1="434.00" x2="312.3" y2="434.00" stroke="#111" stroke-width="1.1"/>
<text x="306.8" y="436.35" font-size="6.5" text-anchor="end" fill="#1a1a1a" stroke="#1a1a1a" stroke-width="0.07" >20</text>
<line x1="309.3" y1="417.60" x2="312.3" y2="417.60" stroke="#111" stroke-width="1.1"/>
<text x="306.8" y="419.95" font-size="6.5" text-anchor="end" fill="#1a1a1a" stroke="#1a1a1a" stroke-width="0.07" >40</text>
<line x1="309.3" y1="401.20" x2="312.3" y2="401.20" stroke="#111" stroke-width="1.1"/>
<text x="306.8" y="403.55" font-size="6.5" text-anchor="end" fill="#1a1a1a" stroke="#1a1a1a" stroke-width="0.07" >60</text>
<line x1="309.3" y1="384.80" x2="312.3" y2="384.80" stroke="#111" stroke-width="1.1"/>
<text x="306.8" y="387.15" font-size="6.5" text-anchor="end" fill="#1a1a1a" stroke="#1a1a1a" stroke-width="0.07" >80</text>
<line x1="309.3" y1="368.40" x2="312.3" y2="368.40" stroke="#111" stroke-width="1.1"/>
<text x="306.8" y="370.75" font-size="6.5" text-anchor="end" fill="#1a1a1a" stroke="#1a1a1a" stroke-width="0.07" >100</text>
<line x1="312.30" y1="450.4" x2="312.30" y2="453.29999999999995" stroke="#111" stroke-width="0.95"/>
<text x="312.30" y="462.59999999999997" font-size="6.5" text-anchor="middle" fill="#1a1a1a" stroke="#1a1a1a" stroke-width="0.07" >0</text>
<line x1="345.24" y1="450.4" x2="345.24" y2="453.29999999999995" stroke="#111" stroke-width="0.95"/>
<text x="345.24" y="462.59999999999997" font-size="6.5" text-anchor="middle" fill="#1a1a1a" stroke="#1a1a1a" stroke-width="0.07" >6</text>
<line x1="378.18" y1="450.4" x2="378.18" y2="453.29999999999995" stroke="#111" stroke-width="0.95"/>
<text x="378.18" y="462.59999999999997" font-size="6.5" text-anchor="middle" fill="#1a1a1a" stroke="#1a1a1a" stroke-width="0.07" >12</text>
<line x1="411.12" y1="450.4" x2="411.12" y2="453.29999999999995" stroke="#111" stroke-width="0.95"/>
<text x="411.12" y="462.59999999999997" font-size="6.5" text-anchor="middle" fill="#1a1a1a" stroke="#1a1a1a" stroke-width="0.07" >18</text>
<line x1="444.06" y1="450.4" x2="444.06" y2="453.29999999999995" stroke="#111" stroke-width="0.95"/>
<text x="444.06" y="462.59999999999997" font-size="6.5" text-anchor="middle" fill="#1a1a1a" stroke="#1a1a1a" stroke-width="0.07" >24</text>
<line x1="477.00" y1="450.4" x2="477.00" y2="453.29999999999995" stroke="#111" stroke-width="0.95"/>
<text x="477.00" y="462.59999999999997" font-size="6.5" text-anchor="middle" fill="#1a1a1a" stroke="#1a1a1a" stroke-width="0.07" >30</text>
<text x="0" y="0" font-size="8.7" text-anchor="middle" fill="#1a1a1a" stroke="#1a1a1a" stroke-width="0.3" transform="translate(396.10,474.60) scale(0.68,1)">Months</text>
<text x="0" y="0" font-size="8.7" text-anchor="middle" fill="#1a1a1a" stroke="#1a1a1a" stroke-width="0.3" transform="translate(289.30,407.20) rotate(-90) scale(0.69,1)">Overall survival (%)</text>
<path d="M320.30,368.50 L321.50,371.00 L324.90,371.40 L326.10,373.30 L328.80,372.80 L329.90,373.70 L330.50,377.90 L334.50,378.50 L336.50,380.00 L338.80,381.40 L341.10,383.30 L342.60,386.00 L344.20,389.10 L348.00,389.50 L350.30,391.40 L352.90,395.60 L356.90,399.80 L361.00,400.40 L363.80,404.20 L366.70,403.90 L369.00,406.10 L372.50,407.90 L375.40,408.50 L378.30,414.80 L381.10,418.80 L383.40,421.80 L383.40,421.80 L389.50,421.80 L389.50,423.90 L414.50,423.90 L414.50,426.50 L418.50,426.50 L418.50,429.30 L450.80,429.30 L450.80,436.20 L474.20,436.20 L474.20,450.40" fill="none" stroke="#b11d49" stroke-width="1.5" stroke-linejoin="miter" stroke-linecap="butt"/>
<path d="M391.70,423.90 L392.70,422.30 L393.70,423.90 Z" fill="#b40c3a"/>
<path d="M396.90,423.90 L397.90,422.30 L398.90,423.90 Z" fill="#b40c3a"/>
<path d="M421.70,429.30 L422.70,427.70 L423.70,429.30 Z" fill="#b40c3a"/>
<path d="M435.50,429.30 L436.50,427.70 L437.50,429.30 Z" fill="#b40c3a"/>
<path d="M437.10,429.30 L438.10,427.70 L439.10,429.30 Z" fill="#b40c3a"/>
<path d="M442.20,429.30 L443.20,427.70 L444.20,429.30 Z" fill="#b40c3a"/>
<path d="M458.20,436.20 L459.20,434.60 L460.20,436.20 Z" fill="#b40c3a"/>
<path d="M312.30,368.40 L327.60,368.40 L327.60,370.20 L347.20,370.20 L347.20,372.50 L348.40,372.50 L348.40,374.80 L364.60,374.80 L364.60,377.50 L367.50,377.50 L367.50,380.10 L370.10,380.10 L370.10,382.90 L371.50,382.90 L371.50,385.90 L387.30,385.90 L387.30,389.00 L395.20,389.00 L395.20,392.00 L409.60,392.00 L409.60,395.70 L411.30,395.70 L411.30,399.40 L449.40,399.40 L449.40,409.50 L464.20,409.50 L464.20,409.50" fill="none" stroke="#42629a" stroke-width="1.5" stroke-linejoin="miter" stroke-linecap="butt"/>
<path d="M331.20,370.20 L332.20,368.60 L333.20,370.20 Z" fill="#24467f"/>
<path d="M335.50,370.20 L336.50,368.60 L337.50,370.20 Z" fill="#24467f"/>
<path d="M351.20,374.80 L352.20,373.20 L353.20,374.80 Z" fill="#24467f"/>
<path d="M352.80,374.80 L353.80,373.20 L354.80,374.80 Z" fill="#24467f"/>
<path d="M354.30,374.80 L355.30,373.20 L356.30,374.80 Z" fill="#24467f"/>
<path d="M361.80,374.80 L362.80,373.20 L363.80,374.80 Z" fill="#24467f"/>
<path d="M374.00,385.90 L375.00,384.30 L376.00,385.90 Z" fill="#24467f"/>
<path d="M393.60,389.00 L394.60,387.40 L395.60,389.00 Z" fill="#24467f"/>
<path d="M400.50,392.00 L401.50,390.40 L402.50,392.00 Z" fill="#24467f"/>
<path d="M415.40,399.40 L416.40,397.80 L417.40,399.40 Z" fill="#24467f"/>
<path d="M420.20,399.40 L421.20,397.80 L422.20,399.40 Z" fill="#24467f"/>
<path d="M424.90,399.40 L425.90,397.80 L426.90,399.40 Z" fill="#24467f"/>
<path d="M432.50,399.40 L433.50,397.80 L434.50,399.40 Z" fill="#24467f"/>
<path d="M435.20,399.40 L436.20,397.80 L437.20,399.40 Z" fill="#24467f"/>
<path d="M438.70,399.40 L439.70,397.80 L440.70,399.40 Z" fill="#24467f"/>
<path d="M446.00,399.40 L447.00,397.80 L448.00,399.40 Z" fill="#24467f"/>
<path d="M450.00,409.50 L451.00,407.90 L452.00,409.50 Z" fill="#24467f"/>
<path d="M453.50,409.50 L454.50,407.90 L455.50,409.50 Z" fill="#24467f"/>
<path d="M462.80,409.50 L463.80,407.90 L464.80,409.50 Z" fill="#24467f"/>
<text x="396.0" y="346.2" font-size="5.4" text-anchor="start" fill="#1a1a1a" stroke="#1a1a1a" stroke-width="0.07" >Response at any time with</text>
<text x="396.0" y="355.2" font-size="5.4" text-anchor="start" fill="#1a1a1a" stroke="#1a1a1a" stroke-width="0.07" >frontline  DEC10-VEN in AML</text>
<text x="411.2" y="364.6" font-size="5.4" text-anchor="start" fill="#1a1a1a" stroke="#1a1a1a" stroke-width="0.07" >CR MRD- (n=41)</text>
<text x="411.2" y="373.6" font-size="5.4" text-anchor="start" fill="#1a1a1a" stroke="#1a1a1a" stroke-width="0.07" >Other response (n=56)</text>
<text x="411.2" y="382.7" font-size="5.4" text-anchor="start" fill="#1a1a1a" stroke="#1a1a1a" stroke-width="0.07" >HR 0.33, 95% CI 0.19, 0.58, p&lt;.0005</text>
<text x="499.3" y="346.2" font-size="5.4" text-anchor="middle" fill="#1a1a1a" stroke="#1a1a1a" stroke-width="0.07" >Median OS</text>
<text x="499.3" y="355.0" font-size="5.4" text-anchor="middle" fill="#1a1a1a" stroke="#1a1a1a" stroke-width="0.07" >(months)</text>
<text x="499.1" y="364.6" font-size="5.4" text-anchor="middle" fill="#1a1a1a" stroke="#1a1a1a" stroke-width="0.07" >25.1</text>
<text x="499.1" y="373.6" font-size="5.4" text-anchor="middle" fill="#1a1a1a" stroke="#1a1a1a" stroke-width="0.07" >11.6</text>
<line x1="396.0" y1="363.5" x2="405.2" y2="363.5" stroke="#24467f" stroke-width="1.4"/>
<path d="M399.30,363.50 L400.60,361.60 L401.90,363.50 Z" fill="#24467f"/>
<line x1="396.0" y1="372.7" x2="405.2" y2="372.7" stroke="#b40c3a" stroke-width="1.4"/>
<path d="M399.30,372.70 L400.60,370.80 L401.90,372.70 Z" fill="#b40c3a"/>
</svg></body></html>
